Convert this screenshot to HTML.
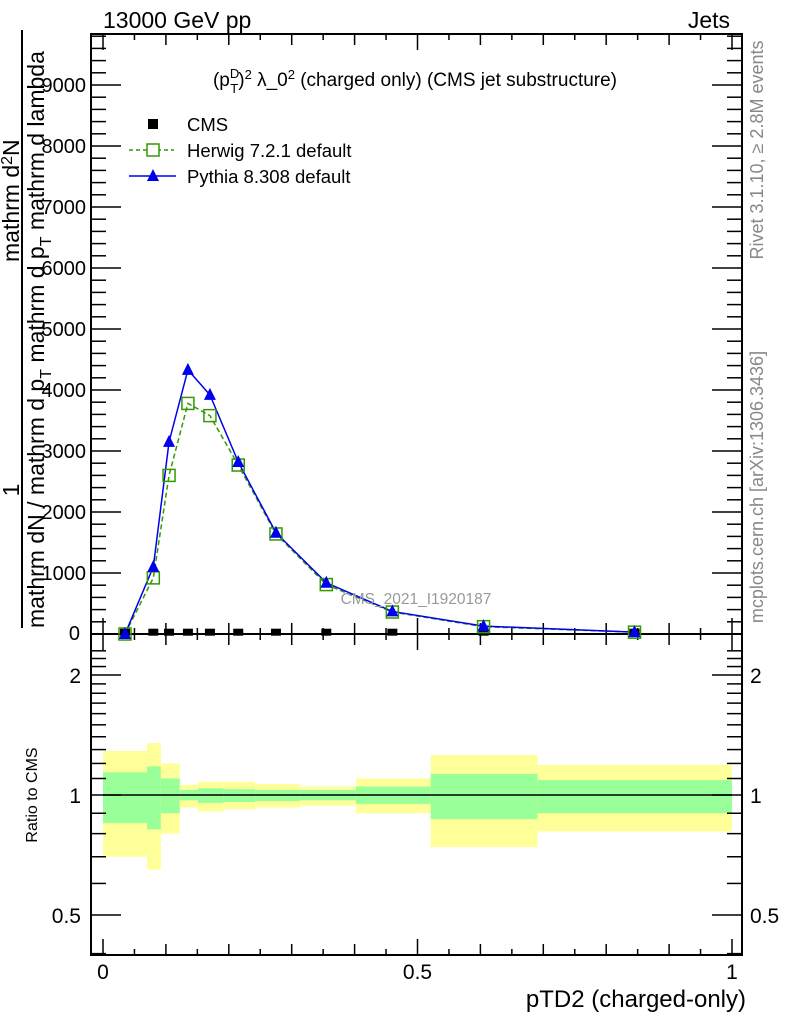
<!DOCTYPE html>
<html><head><meta charset="utf-8"><style>
body{margin:0;background:#fff;}
svg{font-family:"Liberation Sans",sans-serif;}
</style></head><body>
<svg id="c" width="786" height="1024" viewBox="0 0 786 1024" xmlns="http://www.w3.org/2000/svg"></svg>
<script>
const xCenters=[0.035,0.08,0.105,0.135,0.17,0.215,0.275,0.355,0.46,0.605,0.845];
const binEdges=[0,0.07,0.092,0.122,0.151,0.192,0.242,0.313,0.402,0.521,0.691,1.0];
const cmsVals=[5,5,5,5,5,5,5,5,5,5,5];
const herwigVals=[0,920,2600,3780,3580,2770,1640,810,360,120,30];
const pythiaVals=[0,1100,3150,4330,3920,2820,1660,840,370,130,30];
const yellowUp=[1.29,1.35,1.20,1.06,1.08,1.08,1.065,1.05,1.10,1.26,1.19];
const yellowDn=[0.70,0.65,0.80,0.93,0.91,0.92,0.93,0.94,0.90,0.74,0.81];
const greenUp=[1.14,1.18,1.10,1.03,1.04,1.035,1.03,1.03,1.05,1.13,1.09];
const greenDn=[0.85,0.82,0.90,0.97,0.955,0.96,0.965,0.97,0.95,0.87,0.90];
const yTickLabels=["0","1000","2000","3000","4000","5000","6000","7000","8000","9000"];
const rTickVals=[0.5,1,2];
const xTickLabels=["0","0.5","1"];

const svg=document.getElementById('c');
const NS="http://www.w3.org/2000/svg";
function mk(tag,attrs,parent){const e=document.createElementNS(NS,tag);for(const k in attrs)e.setAttribute(k,attrs[k]);(parent||svg).appendChild(e);return e;}
const L=91,R=742,T=34,B=634,RB=955;
const X=v=>103+v*629;
const Y=v=>634-v*0.061;
const RY=v=>795-120*Math.log2(v);

for(let i=0;i<xCenters.length;i++){
  const x0=X(binEdges[i]),x1=X(binEdges[i+1]);
  const yb=mk('rect',{x:x0,y:RY(yellowUp[i]),width:x1-x0,height:RY(yellowDn[i])-RY(yellowUp[i]),fill:'#ffff99'});
  
  
  const gb=mk('rect',{x:x0,y:RY(greenUp[i]),width:x1-x0,height:RY(greenDn[i])-RY(greenUp[i]),fill:'#99ff99'});
  
  
}
const unity=mk('line',{x1:X(0),x2:X(1),y1:RY(1),y2:RY(1),stroke:'#000','stroke-width':1.5});



for(const [t,b,n] of [[T,B,'main-frame'],[B,RB,'ratio-frame']]){
  const f=mk('rect',{x:L,y:t,width:R-L,height:b-t,fill:'none',stroke:'#000','stroke-width':2});
  
  
}
for(let v=0;v<=9800;v+=200){
  const y=Y(v); if(y<T) break;
  const len=v%1000===0?30:15;
  mk('line',{x1:L,x2:L+len,y1:y,y2:y,stroke:'#000','stroke-width':1.5});
  mk('line',{x1:R,x2:R-len,y1:y,y2:y,stroke:'#000','stroke-width':1.5});
}
yTickLabels.forEach((s,i)=>{
  if(i===0)return;
  const t=mk('text',{x:86,y:Y(i*1000)+7,'font-size':20,'text-anchor':'end'});t.textContent=s;
  
  
});
const t0=mk('text',{x:80,y:640,'font-size':20,'text-anchor':'end'});t0.textContent='0';


for(let k=0;k<=20;k++){
  const v=k*0.05,x=X(v);
  const len=k%10===0?16:(k%2===0?11:6);
  for(const [yb,yt] of [[B,T],[RB,B]]){
    mk('line',{x1:x,x2:x,y1:yb,y2:yb-len,stroke:'#000','stroke-width':1.5});
    mk('line',{x1:x,x2:x,y1:yt,y2:yt+len,stroke:'#000','stroke-width':1.5});
  }
}
xTickLabels.forEach((s,i)=>{
  const t=mk('text',{x:X(i*0.5),y:979,'font-size':21,'text-anchor':'middle'});t.textContent=s;
  
  
});
for(let v=0.4;v<=2.3;v=+(v+0.1).toFixed(1)){
  const y=RY(v); if(y<B||y>RB) continue;
  const major=rTickVals.includes(v);
  const len=major?30:15;
  mk('line',{x1:L,x2:L+len,y1:y,y2:y,stroke:'#000','stroke-width':1.5});
  mk('line',{x1:R,x2:R-len,y1:y,y2:y,stroke:'#000','stroke-width':1.5});
}
rTickVals.forEach(v=>{
  for(const [x,a] of [[81,'end'],[750,'start']]){
    const t=mk('text',{x:x,y:RY(v)+8,'font-size':21,'text-anchor':a});t.textContent=String(v);
    
    
  }
});

function pts(vals){return xCenters.map((x,i)=>X(x)+','+Y(vals[i])).join(' ');}
const hl=mk('polyline',{points:pts(herwigVals),fill:'none',stroke:'#339900','stroke-width':1.5,'stroke-dasharray':'5,3'});


const pl=mk('polyline',{points:pts(pythiaVals),fill:'none',stroke:'#0000ee','stroke-width':1.5});


xCenters.forEach((xv,i)=>{
  const x=X(xv);
  const c=mk('rect',{x:x-5,y:Y(cmsVals[i])-5,width:10,height:7,fill:'#000'});
  
  
  const h=mk('rect',{x:x-6,y:Y(herwigVals[i])-6,width:12,height:12,fill:'none',stroke:'#339900','stroke-width':1.5});
  
  
  const y=Y(pythiaVals[i]);
  const p=mk('polygon',{points:`${x},${y-7} ${x-6},${y+5} ${x+6},${y+5}`,fill:'#0000ee'});
  
  
});

const lg=mk('g',{});


mk('rect',{x:148,y:119,width:10,height:10,fill:'#000'},lg);
mk('line',{x1:129,x2:174,y1:150,y2:150,stroke:'#339900','stroke-width':1.5,'stroke-dasharray':'4,3'},lg);
mk('rect',{x:147,y:144,width:12,height:12,fill:'#fff',stroke:'#339900','stroke-width':1.5},lg);
mk('line',{x1:129,x2:176,y1:176,y2:176,stroke:'#0000ee','stroke-width':1.5},lg);
mk('polygon',{points:'153,169 147,181 159,181',fill:'#0000ee'},lg);
[['CMS',131],['Herwig 7.2.1 default',157],['Pythia 8.308 default',183]].forEach(([s,y])=>{
  const t=mk('text',{x:187,y:y,'font-size':18.5},lg);t.textContent=s;
  
  
});
</script>
<svg width="786" height="1024" viewBox="0 0 786 1024" xmlns="http://www.w3.org/2000/svg" style="position:absolute;left:0;top:0;font-family:'Liberation Sans',sans-serif">
<text x="103" y="28" font-size="23">13000 GeV pp</text>
<text x="730" y="28" font-size="23" text-anchor="end">Jets</text>
<text x="415" y="86" font-size="19" text-anchor="middle">(p<tspan font-size="13" dy="-8">D</tspan><tspan font-size="13" dx="-9" dy="15">T</tspan><tspan dy="-7">)</tspan><tspan font-size="13" dy="-7">2</tspan><tspan dy="7"> λ_0</tspan><tspan font-size="13" dy="-7">2</tspan><tspan dy="7"> (charged only) (CMS jet substructure)</tspan></text>
<text x="416" y="604" font-size="15.5" fill="#999" text-anchor="middle">CMS_2021_I1920187</text>
<text transform="translate(763,150) rotate(-90)" font-size="18" fill="#888" text-anchor="middle">Rivet 3.1.10, ≥ 2.8M events</text>
<text transform="translate(763,487) rotate(-90)" font-size="18" fill="#888" text-anchor="middle">mcplots.cern.ch [arXiv:1306.3436]</text>
<line x1="22" y1="30" x2="22" y2="628" stroke="#000" stroke-width="2"/>
<text transform="translate(19,490) rotate(-90)" font-size="23" text-anchor="middle">1</text>
<text transform="translate(44,628) rotate(-90)" font-size="23">mathrm dN / mathrm d p<tspan font-size="16" dy="7">T</tspan><tspan dy="-7"> mathrm d p</tspan><tspan font-size="16" dy="7">T</tspan><tspan dy="-7"> mathrm d lambda</tspan></text>
<text transform="translate(19,262) rotate(-90)" font-size="23">mathrm d<tspan font-size="16" dy="-7">2</tspan><tspan dy="7">N</tspan></text>
<text transform="translate(37,795) rotate(-90)" font-size="16" text-anchor="middle">Ratio to CMS</text>
<text x="746" y="1007" font-size="24" text-anchor="end">pTD2 (charged-only)</text>
</svg>
</body></html>
